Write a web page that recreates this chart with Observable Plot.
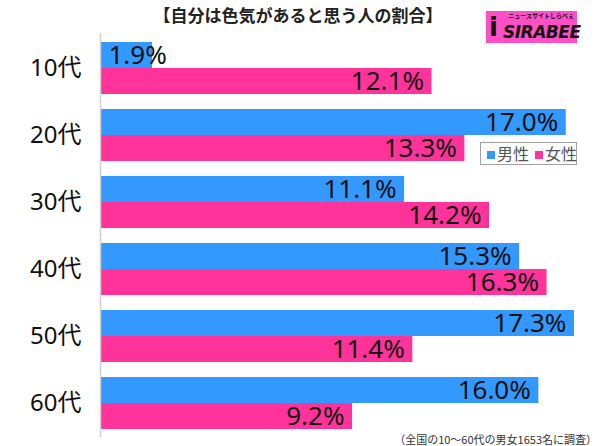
<!DOCTYPE html>
<html>
<head>
<meta charset="utf-8">
<script src="https://cdn.jsdelivr.net/npm/d3@7"></script>
<script src="https://cdn.jsdelivr.net/npm/@observablehq/plot@0.6"></script>
<style>
  html, body { margin: 0; padding: 0; background: #fff; }
  #wrap { position: relative; width: 600px; height: 446px; overflow: hidden; font-family: "Noto Sans", "Noto Sans CJK JP", sans-serif; }
  #title { position: absolute; left: 0; width: 596px; top: 3px; text-align: center; font-family: "Noto Sans CJK JP", sans-serif; font-weight: bold; font-size: 17px; color: #222; line-height: 24px; }
  #logo { position: absolute; left: 486px; top: 11px; width: 91px; height: 32px; background: #ff4fc6; }
  #logo .sub { position: absolute; right: 3px; top: 1px; font-family: "Noto Sans CJK JP", sans-serif; font-size: 6px; line-height: 7px; color: #111; font-weight: bold; }
  #logo .main { position: absolute; left: 17px; top: 12px; font-family: "DejaVu Sans", sans-serif; font-weight: bold; font-style: italic; font-size: 17px; line-height: 18px; color: #111; letter-spacing: -0.5px; }
  #logo .i { position: absolute; left: 3px; top: 1px; font-family: "DejaVu Sans", sans-serif; font-weight: bold; font-size: 26px; line-height: 30px; color: #111; }
  #legend { position: absolute; left: 480px; top: 142px; width: 95px; height: 21px; border: 1px solid #a0a0a0; background: #fff; font-family: "Noto Sans CJK JP", sans-serif; font-size: 16px; line-height: 21px; color: #555; white-space: nowrap; }
  #legend span.sw { display: inline-block; width: 8px; height: 8px; margin: 0 2px 0 6px; vertical-align: 1px; }
  #caption { position: absolute; right: 3px; top: 431px; font-family: "Noto Sans CJK JP", sans-serif; font-size: 11px; line-height: 16px; color: #333; }
  svg { position: absolute; left: 0; top: 0; }
</style>
</head>
<body>
<div id="wrap">
  <div id="chart"></div>
  <div id="title">【自分は色気があると思う人の割合】</div>
  <div id="logo"><span class="i">i</span><span class="sub">ニュースサイトしらべぇ</span><span class="main">SIRABEE</span></div>
  <div id="legend"></div>
  <div id="caption">（全国の10〜60代の男女1653名に調査）</div>
</div>
<script>
const ages = ["10代", "20代", "30代", "40代", "50代", "60代"];
const genders = ["男性", "女性"];
const male = [1.9, 17.0, 11.1, 15.3, 17.3, 16.0];
const female = [12.1, 13.3, 14.2, 16.3, 11.4, 9.2];
const colors = ["#3399ff", "#ff3399"];

const data = ages.flatMap((a, i) => [
  {age: a, gender: genders[0], value: male[i]},
  {age: a, gender: genders[1], value: female[i]}
]);
const big = data.filter(d => d.value >= 5);
const small = data.filter(d => d.value < 5);
const fmt = d => d.value.toFixed(1) + "%";

const chart = Plot.plot({
  width: 600,
  height: 446,
  marginLeft: 100,
  marginRight: 0,
  marginTop: 31,
  marginBottom: 8,
  style: {fontSize: "24px", fontFamily: "'Noto Sans', 'Noto Sans CJK JP', sans-serif", color: "#111", background: "transparent"},
  x: {domain: [0, 18.25], axis: null},
  y: {domain: genders, padding: 0, axis: null},
  fy: {domain: ages, paddingInner: 0.212, paddingOuter: 0.106, axis: "left", label: null, tickSize: 0, tickPadding: 19},
  color: {domain: genders, range: colors},
  marks: [
    Plot.barX(data, {fy: "age", y: "gender", x: "value", fill: "gender"}),
    Plot.ruleX([0], {stroke: "#d0d0d0", strokeWidth: 1.5, insetTop: -8, insetBottom: -8}),
    Plot.text(big, {fy: "age", y: "gender", x: "value", text: fmt, textAnchor: "end", dx: -8, fontSize: 26, fill: "#111"}),
    Plot.text(small, {fy: "age", y: "gender", x: () => 0, text: fmt, textAnchor: "start", dx: 8, fontSize: 26, fill: "#111"})
  ]
});
document.getElementById("chart").appendChild(chart);

const legend = document.getElementById("legend");
genders.forEach((g, i) => {
  const sw = document.createElement("span");
  sw.className = "sw";
  sw.style.background = colors[i];
  legend.appendChild(sw);
  legend.appendChild(document.createTextNode(g));
});
</script>
</body>
</html>
